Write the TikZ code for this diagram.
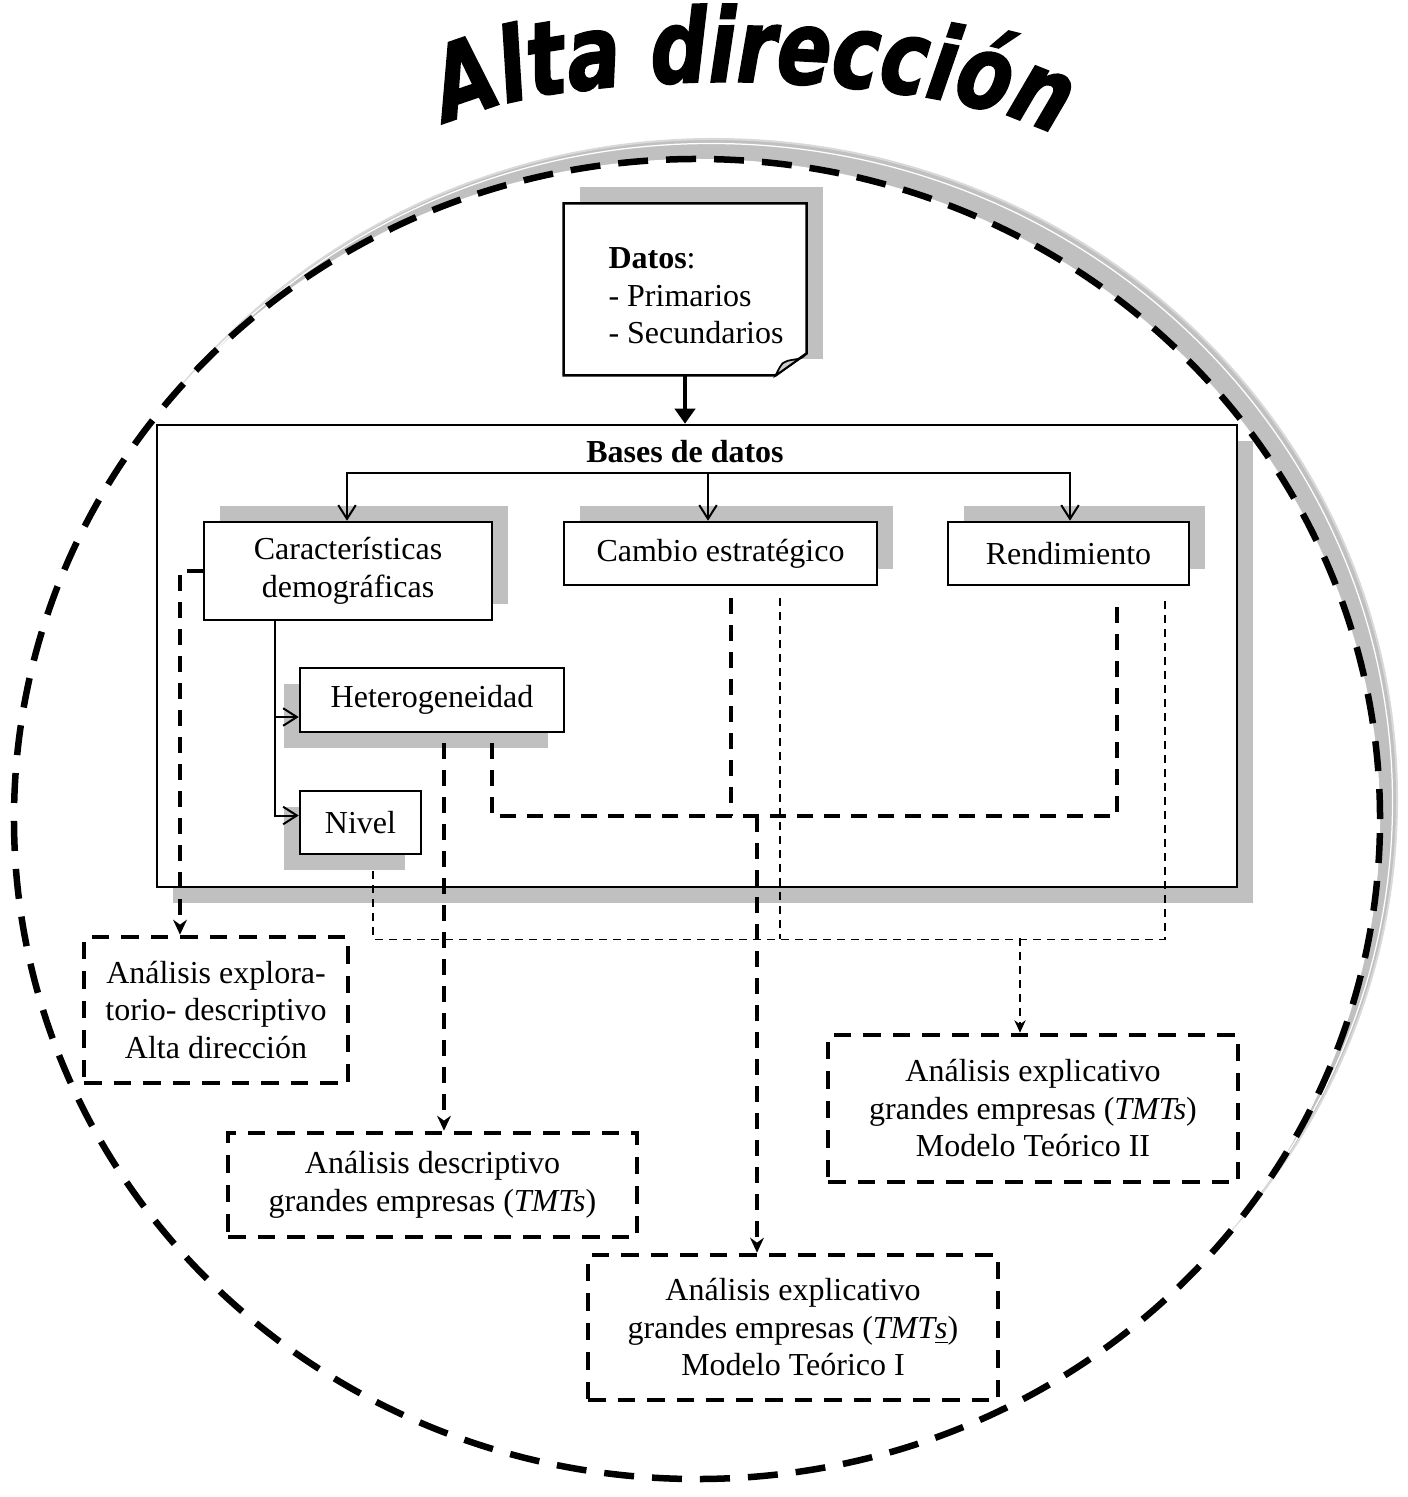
\documentclass[tikz,border=0pt]{standalone}
\usepackage{fontspec}
\setmainfont{Liberation Serif}
\newfontfamily\titlefont{DejaVu Sans}[FakeStretch=0.78, BoldItalicFeatures={FakeBold=1.6}]
\usetikzlibrary{calc,arrows.meta,shadows,decorations.text}
\definecolor{shadowgray}{RGB}{192,192,192}
\newcommand\bodyfont{\fontsize{12.8}{15}\selectfont}
\tikzset{
  plainbox/.style={draw, line width=1pt, fill=white, align=center, inner sep=0pt, font=\bodyfont},
  dashbox/.style={draw, line width=1.8pt, dash pattern=on 7pt off 4.8pt, fill=white, align=center, inner sep=0pt, font=\bodyfont},
  thickdash/.style={line width=1.7pt, dash pattern=on 6.4pt off 4.4pt},
  thindash/.style={line width=0.6pt, dash pattern=on 3.2pt off 2.4pt},
  treeline/.style={line width=0.8pt, -{Straight Barb[length=5.5pt,width=7pt]}},
  dashtip/.style={-{Stealth[length=6pt,width=5.5pt]}},
  shadowUR/.style={general shadow={fill=shadowgray, shadow xshift=6.4pt, shadow yshift=6.4pt}},
  shadowDR/.style={general shadow={fill=shadowgray, shadow xshift=6.4pt, shadow yshift=-6.4pt}},
  shadowDL/.style={general shadow={fill=shadowgray, shadow xshift=-6.4pt, shadow yshift=-6.4pt}},
}
\begin{document}
\begin{tikzpicture}[x=0.4pt, y=-0.4pt]
\useasboundingbox (0,0) rectangle (1407,1497);

% outer dashed ellipse with its shadow
\fill[shadowgray] (714,799) ellipse [x radius=273.2pt, y radius=264pt];
\draw[gray!30, line width=0.8pt] (714,799) ellipse [x radius=273.2pt, y radius=264pt];
\draw[white, line width=0.5pt] (711,802) ellipse [x radius=272.6pt, y radius=263.4pt];
\fill[white] (697,819) ellipse [x radius=273.2pt, y radius=264pt];
\draw[line width=2.6pt, dash pattern=on 12pt off 7.2pt] (697,819) ellipse [x radius=273.2pt, y radius=264pt];

% arched title
\path[decorate, decoration={text along path, text align=center,
  text={|\titlefont\bfseries\itshape\fontsize{41}{43}\selectfont|Alta dirección}}]
  (438,130) .. controls (535,64) and (945,64) .. (1066,142);

% data sheet with folded corner
\node[minimum width=96.8pt, minimum height=68.4pt, inner sep=0pt] (datos) at (685,289.5) {};
\fill[shadowgray] ($(datos.south west)+(16,-16)$) rectangle ($(datos.north east)+(16,-16)$);
\draw[line width=1pt, fill=white] (datos.north west) -- (datos.north east)
  -- ($(datos.south east)+(0,-22)$) -- ($(datos.south east)+(-31,0)$) -- (datos.south west) -- cycle;
\draw[line width=0.7pt, fill=gray!40] ($(datos.south east)+(-31,0)$)
  .. controls ($(datos.south east)+(-24,-14)$) .. ($(datos.south east)+(-12,-16)$)
  .. controls ($(datos.south east)+(-5,-17)$) .. ($(datos.south east)+(0,-22)$) -- cycle;
\node[anchor=west, align=left, inner sep=0pt, font=\bodyfont] (datostxt) at (608,296)
  {\textbf{Datos}:\\- Primarios\\- Secundarios};

% data bases frame
\node[plainbox, shadowDR, minimum width=432pt, minimum height=184.8pt] (bases) at (697,656) {};
\node[font=\bodyfont\bfseries, inner sep=0pt] (basestitle) at (685,452) {Bases de datos};
\draw[line width=1.7pt, -{Triangle[length=6pt,width=8pt]}] (datos.south) -- (datos.south |- bases.north);

% variable boxes
\node[plainbox, shadowUR, minimum width=115.2pt, minimum height=39.2pt] (car) at (348,571)
  {Características\\demográficas};
\node[plainbox, shadowUR, minimum width=125.2pt, minimum height=25.2pt] (cambio) at (720.5,553.5)
  {Cambio estratégico};
\node[plainbox, shadowUR, minimum width=96.4pt, minimum height=25.2pt] (rend) at (1068.5,553.5)
  {Rendimiento};
\node[plainbox, shadowDL, minimum width=105.6pt, minimum height=25.6pt] (het) at (432,700)
  {Heterogeneidad};
\node[plainbox, shadowDL, minimum width=48.4pt, minimum height=25.2pt] (nivel) at (360.5,822.5)
  {Nivel};

% tree inside the frame
\coordinate (hub) at (708,473);
\draw[treeline] (hub) -| ($(car.north)+(-1,0)$);
\draw[treeline] (hub) -| ($(rend.north)+(1.5,0)$);
\draw[treeline] (hub) -- (hub |- cambio.north);
\coordinate (stem) at ($(car.south west)+(72,0)$);
\draw[treeline] (stem) |- ($(het.west)+(0,17)$);
\draw[treeline] (stem) |- ($(nivel.west)+(0,-7)$);

% analysis boxes
\node[dashbox, minimum width=105.6pt, minimum height=58.4pt] (explo) at (216,1010)
  {Análisis explora-\\torio- descriptivo\\Alta dirección};
\node[dashbox, minimum width=163.6pt, minimum height=41.6pt] (desc) at (432.5,1185)
  {Análisis descriptivo\\grandes empresas (\textit{TMTs})};
\node[dashbox, minimum width=164pt, minimum height=58pt] (mod1) at (793,1327.5)
  {Análisis explicativo\\grandes empresas (\textit{TMT\underline{s}})\\Modelo Teórico I};
\node[dashbox, minimum width=164pt, minimum height=58.8pt] (mod2) at (1033,1108.5)
  {Análisis explicativo\\grandes empresas (\textit{TMTs})\\Modelo Teórico II};

% thick dashed flows
\coordinate (cleft) at (180,571);
\draw[thickdash, dashtip] (car.west) -- (cleft) -- (cleft |- explo.north);
\coordinate (hdown) at ($(het.south)+(12,10)$);
\draw[thickdash, dashtip] (hdown) -- (hdown |- desc.north);
\draw[thickdash] ($(het.south)+(60,10)$) |- ($(rend.south)+(48.5,230)$) -- ($(rend.south)+(48.5,12)$);
\draw[thickdash] ($(cambio.south)+(10.5,12)$) -- ($(cambio.south)+(10.5,230)$);
\coordinate (junc) at ($(cambio.south)+(36.5,230)$);
\draw[thickdash, dashtip] (junc) -- (junc |- mod1.north);

% thin dashed flows
\draw[thindash] ($(nivel.south)+(12.5,16)$) |- ($(rend.south)+(96.5,353)$) -- ($(rend.south)+(96.5,12)$);
\draw[thindash] ($(cambio.south)+(59.5,12)$) -- ($(cambio.south)+(59.5,353)$);
\coordinate (tjunc) at (1020,938);
\draw[thindash, -{Stealth[length=5pt,width=4.5pt]}] (tjunc) -- (tjunc |- mod2.north);
\end{tikzpicture}
\end{document}
